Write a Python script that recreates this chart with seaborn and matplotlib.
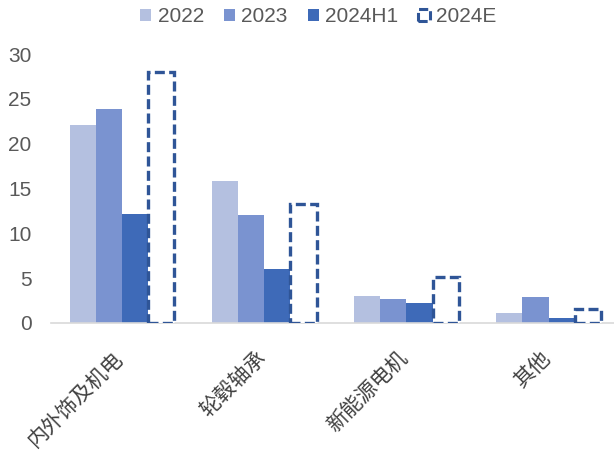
import matplotlib
matplotlib.use("Agg")
import matplotlib.pyplot as plt
import matplotlib.transforms as mtrans
import seaborn as sns
import pandas as pd
from matplotlib.patches import Patch

categories = ["内外饰及机电", "轮毂轴承", "新能源电机", "其他"]
series = ["2022", "2023", "2024H1", "2024E"]
v2022 = [22.1, 15.8, 3.0, 1.1]
v2023 = [23.9, 12.0, 2.7, 2.9]
v2024h1 = [12.2, 6.0, 2.2, 0.6]
v2024e = [28.0, 13.3, 5.1, 1.6]
yticks = [0, 5, 10, 15, 20, 25, 30]

colors = ["#B4C0E0", "#7A93D0", "#3E6AB8", "#FFFFFF"]
edge_e = "#2F5597"

rows = []
for s, vals in zip(series, [v2022, v2023, v2024h1, v2024e]):
    for c, v in zip(categories, vals):
        rows.append({"cat": c, "series": s, "value": v})
df = pd.DataFrame(rows)

sns.set_theme(style="white")
plt.rcParams["font.family"] = ["Liberation Sans", "Noto Sans CJK SC", "DejaVu Sans"]

fig = plt.figure(figsize=(6.14, 4.55), dpi=100)
ax = fig.add_axes([51/614, 1 - 323/455, 1 - 51/614, (323 - 54)/455])

sns.barplot(data=df, x="cat", y="value", hue="series", order=categories,
            hue_order=series, palette=colors, width=0.735, ax=ax,
            saturation=1, legend=False, linewidth=0)

dash = (0, (3, 1.3))
for p in ax.containers[3]:
    p.set_facecolor("white")
    p.set_edgecolor(edge_e)
    p.set_linestyle(dash)
    p.set_linewidth(2.4)
    p.set_zorder(3)

ax.set_xlim(-0.5, 3.46)
ax.set_ylim(0, 30)
ax.set_yticks(yticks)
ax.set_yticklabels([str(t) for t in yticks], fontsize=15, color="#595959",
                   family="Liberation Sans")
ax.set_xlabel("")
ax.set_ylabel("")
for s in ["top", "right", "left"]:
    ax.spines[s].set_visible(False)
ax.spines["bottom"].set_color("#D9D9D9")
ax.spines["bottom"].set_linewidth(1.2)
ax.tick_params(axis="both", length=0)
ax.tick_params(axis="y", pad=14)
ax.set_xticks(range(len(categories)))
ax.set_xticklabels(categories, rotation=45, ha="right", rotation_mode="anchor",
                   fontsize=15, color="#404040", family=["Noto Sans CJK SC"])
ax.tick_params(axis="x", pad=17)
for i, lab in enumerate(ax.get_xticklabels()):
    off = mtrans.ScaledTranslation(-10 / 100, 0, fig.dpi_scale_trans)
    lab.set_transform(lab.get_transform() + off)
ax.grid(False)

handles = [Patch(facecolor=colors[0], edgecolor="none"),
           Patch(facecolor=colors[1], edgecolor="none"),
           Patch(facecolor=colors[2], edgecolor="none"),
           Patch(facecolor="white", edgecolor=edge_e, linestyle=dash, linewidth=2.2)]
leg = fig.legend(handles, series, loc="upper center", bbox_to_anchor=(0.518, 1.025),
                 ncol=4, frameon=False, fontsize=15, handlelength=0.55, handleheight=0.55,
                 handletextpad=0.3, columnspacing=0.95)
for t in leg.get_texts():
    t.set_color("#595959")

fig.savefig("out.png", dpi=100)
